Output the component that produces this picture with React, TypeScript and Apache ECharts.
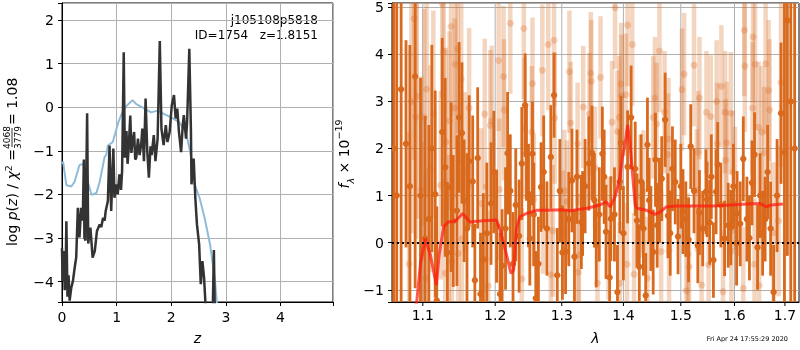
import React, { useEffect, useRef } from 'react';
import * as echarts from 'echarts';

// ---------- left panel: p(z) ----------
const zPrior = [0.0, 0.02, 0.08, 0.17, 0.23, 0.32, 0.38, 0.44, 0.54, 0.63, 0.69, 0.78, 0.81, 0.84, 0.93, 1.03, 1.09, 1.18, 1.29, 1.36, 1.48, 1.63, 1.75, 1.87, 1.99, 2.15, 2.27, 2.36, 2.42, 2.52, 2.61, 2.71, 2.8, 2.85, 2.9];
const pPrior = [-1.3, -1.25, -1.79, -1.82, -1.71, -1.33, -1.3, -1.57, -2.01, -1.97, -1.71, -1.14, -1.1, -0.88, -0.8, -0.35, -0.16, 0.03, 0.16, 0.07, -0.01, -0.12, -0.08, -0.16, -0.23, -0.35, -0.58, -1.11, -1.75, -2.09, -2.54, -3.15, -3.98, -4.7, -5.2];

const zFit = [0.0, 0.01, 0.03, 0.05, 0.07, 0.08, 0.1, 0.12, 0.14, 0.17, 0.2, 0.23, 0.26, 0.29, 0.32, 0.35, 0.38, 0.4, 0.41, 0.43, 0.46, 0.48, 0.5, 0.52, 0.56, 0.6, 0.64, 0.69, 0.72, 0.75, 0.78, 0.8, 0.84, 0.87, 0.9, 0.94, 0.96, 0.99, 1.02, 1.05, 1.08, 1.1, 1.13, 1.15, 1.18, 1.2, 1.22, 1.25, 1.27, 1.29, 1.32, 1.34, 1.36, 1.39, 1.42, 1.45, 1.47, 1.5, 1.53, 1.56, 1.59, 1.62, 1.64, 1.68, 1.71, 1.75, 1.79, 1.82, 1.86, 1.9, 1.93, 1.97, 2.01, 2.05, 2.08, 2.11, 2.14, 2.18, 2.21, 2.23, 2.27, 2.29, 2.33, 2.36, 2.37, 2.41, 2.44, 2.47, 2.51, 2.54, 2.57, 2.6, 2.63, 2.7, 2.76, 2.78, 2.8];
const pFit = [-3.23, -3.99, -3.3, -4.2, -3.5, -2.62, -4.35, -3.86, -4.44, -4.14, -3.99, -3.7, -3.45, -2.31, -2.99, -2.31, -2.6, -1.2, -2.99, -3.06, -0.14, -3.13, -2.9, -2.76, -3.45, -3.3, -2.84, -2.69, -2.75, -2.54, -2.6, -2.38, -2.15, -0.88, -2.38, -0.95, -2.08, -1.77, -2.0, -1.54, -1.9, -1.46, 1.26, -1.16, -0.55, -1.3, -0.95, -0.19, -1.05, -0.8, -0.57, -1.2, -1.16, -0.72, -1.1, -0.85, -0.49, -1.24, 0.2, -1.0, -1.62, -0.9, -1.1, -0.64, -1.24, -0.72, 1.52, -0.49, -0.87, -0.41, -0.8, -0.57, 0.05, 0.28, -0.26, -0.03, -0.56, -1.03, -0.41, -0.18, -0.72, -0.33, 1.34, -0.56, -1.77, -1.18, -2.08, -2.69, -3.15, -4.06, -3.53, -3.91, -4.6, -5.0, -4.6, -3.28, -5.0];

// ---------- right panel: spectrum ----------
const darkWave = [1.062, 1.066, 1.0717, 1.078, 1.083, 1.0899, 1.097, 1.103, 1.108, 1.112, 1.1165, 1.1186, 1.126, 1.13, 1.133, 1.138, 1.141, 1.146, 1.149, 1.153, 1.156, 1.16, 1.163, 1.168, 1.171, 1.175, 1.179, 1.183, 1.188, 1.194, 1.198, 1.202, 1.207, 1.21, 1.215, 1.218, 1.222, 1.226, 1.23, 1.235, 1.239, 1.244, 1.246, 1.249, 1.251, 1.255, 1.257, 1.26, 1.264, 1.268, 1.272, 1.277, 1.283, 1.288, 1.293, 1.297, 1.301, 1.306, 1.311, 1.316, 1.32, 1.324, 1.331, 1.333, 1.337, 1.343, 1.348, 1.352, 1.355, 1.36, 1.365, 1.368, 1.371, 1.377, 1.379, 1.385, 1.39, 1.394, 1.396, 1.4, 1.407, 1.413, 1.42, 1.423, 1.427, 1.43, 1.434, 1.438, 1.441, 1.444, 1.447, 1.451, 1.455, 1.458, 1.462, 1.466, 1.472, 1.477, 1.481, 1.485, 1.49, 1.495, 1.5, 1.504, 1.509, 1.514, 1.518, 1.524, 1.531, 1.534, 1.54, 1.546, 1.548, 1.553, 1.556, 1.56, 1.565, 1.568, 1.574, 1.581, 1.588, 1.593, 1.598, 1.604, 1.605, 1.611, 1.617, 1.624, 1.629, 1.634, 1.639, 1.645, 1.65, 1.655, 1.66, 1.665, 1.671, 1.677, 1.684, 1.692, 1.699, 1.705, 1.712, 1.72];
const darkFlux = [2.0, 1.0, 3.26, 2.1, 1.2, 3.53, 1.0, 0.09, 0.5, 2.0, 1.03, -1.23, 2.35, 1.6, -0.21, 1.18, 0.46, 0.68, 2.66, 2.33, 0.89, 0.3, 1.73, 1.3, -0.8, 1.8, -1.09, -0.35, 0.2, 0.83, 1.5, 0.35, -1.09, -0.49, 0.3, 1.9, 1.1, -0.45, 0.8, 0.14, 1.68, 2.92, 1.89, 1.0, 0.09, 1.89, 0.6, -1.18, -0.45, 1.18, 1.5, 0.3, 1.82, 3.13, -0.69, 1.1, -0.21, -0.19, 0.5, 1.32, -0.3, 1.4, 0.44, 0.62, 1.2, 1.68, 1.91, 0.9, -0.05, 0.6, 1.89, 1.4, 0.23, -0.74, 0.51, 0.6, -1.05, 1.3, 2.12, 0.2, 1.61, 2.66, 1.57, 0.47, -0.51, 1.3, 0.3, -1.12, 2.08, 0.9, 0.3, -0.2, 1.76, 0.37, 0.9, 1.36, 2.61, 0.57, 0.2, 1.57, 1.29, 0.13, 1.2, 0.66, 0.5, 0.06, 2.04, 1.1, -0.06, 0.64, 0.3, 1.08, 0.92, 0.43, 1.4, -0.37, 1.08, 1.66, 0.8, 0.09, 0.37, 0.32, 1.2, -0.01, 0.62, 0.4, 1.78, 0.5, 0.1, 1.27, 1.87, -0.1, 1.0, 0.2, 0.5, 1.5, 0.3, -1.05, 1.0, 2.75, 1.92, 4.72, 3.0, 2.0];
const darkErr = [6.0, 6.0, 5.0, 2.2, 3.0, 4.5, 2.5, 2.6, 2.0, 2.2, 2.2, 2.0, 2.0, 1.9, 1.5, 1.8, 1.4, 1.6, 1.6, 1.5, 1.3, 1.6, 1.4, 1.4, 1.2, 1.5, 1.3, 1.4, 1.5, 1.3, 1.3, 1.2, 1.3, 1.2, 1.3, 1.3, 1.2, 1.1, 1.2, 1.2, 1.2, 1.1, 1.0, 1.1, 1.0, 1.1, 1.1, 1.0, 1.0, 0.95, 1.2, 1.0, 1.1, 0.9, 1.0, 1.1, 1.0, 0.9, 1.0, 1.1, 1.0, 1.0, 1.0, 0.9, 1.0, 1.0, 1.0, 1.0, 0.9, 1.0, 1.0, 1.0, 1.0, 1.0, 0.9, 1.0, 1.0, 1.1, 1.0, 1.0, 1.2, 1.1, 1.0, 1.0, 0.9, 1.0, 1.0, 0.9, 1.0, 0.9, 0.9, 0.9, 1.0, 0.9, 0.9, 0.9, 1.0, 0.9, 0.9, 0.9, 0.9, 0.8, 0.9, 0.9, 0.8, 0.9, 0.9, 0.9, 0.8, 0.9, 0.8, 0.9, 0.8, 0.9, 0.9, 0.8, 0.9, 0.9, 0.9, 0.8, 0.9, 0.8, 0.9, 0.9, 0.9, 0.9, 0.9, 0.9, 0.9, 0.9, 0.9, 0.9, 0.9, 0.9, 0.9, 1.0, 1.0, 1.0, 1.2, 1.5, 3.5, 5.0, 6.0, 6.0];

const lightWave = [1.082, 1.085, 1.0885, 1.091, 1.092, 1.098, 1.099, 1.102, 1.104, 1.105, 1.11, 1.114, 1.124, 1.126, 1.128, 1.13, 1.131, 1.135, 1.136, 1.138, 1.139, 1.143, 1.144, 1.147, 1.148, 1.152, 1.153, 1.157, 1.163, 1.18, 1.185, 1.186, 1.19, 1.193, 1.195, 1.205, 1.206, 1.212, 1.213, 1.222, 1.239, 1.242, 1.243, 1.254, 1.255, 1.257, 1.27, 1.271, 1.279, 1.283, 1.286, 1.288, 1.289, 1.302, 1.304, 1.308, 1.312, 1.314, 1.325, 1.326, 1.327, 1.334, 1.344, 1.346, 1.347, 1.353, 1.357, 1.362, 1.375, 1.381, 1.386, 1.39, 1.393, 1.394, 1.396, 1.397, 1.404, 1.406, 1.407, 1.415, 1.418, 1.429, 1.434, 1.441, 1.451, 1.454, 1.457, 1.462, 1.465, 1.471, 1.477, 1.478, 1.479, 1.502, 1.506, 1.51, 1.513, 1.515, 1.524, 1.529, 1.532, 1.534, 1.538, 1.547, 1.551, 1.555, 1.566, 1.567, 1.575, 1.578, 1.582, 1.583, 1.585, 1.593, 1.594, 1.597, 1.601, 1.617, 1.619, 1.62, 1.635, 1.636, 1.639, 1.64, 1.647, 1.648, 1.653, 1.658, 1.661, 1.667, 1.669, 1.677, 1.687, 1.692];
const lightFlux = [-0.45, 3.0, 4.76, 2.67, 3.11, 1.13, -0.26, 2.66, -0.75, 3.26, 1.57, 2.73, 1.22, 5.08, 4.06, -0.65, 2.14, -0.04, 2.59, 4.59, -0.4, 2.86, 3.79, 4.12, -0.23, 3.47, 0.08, 1.5, 2.86, 0.83, 2.73, -0.35, -0.92, 2.49, 2.59, 3.87, 1.13, 3.53, 2.82, 4.66, -0.77, 4.55, 2.43, 2.35, 3.38, 0.92, 3.66, 0.74, 4.21, -0.68, 0.25, 4.3, 2.65, 0.23, 1.1, 0.87, 3.63, 2.54, 2.1, -0.63, -0.26, 2.88, 2.73, 3.6, 3.43, 1.59, -0.86, 3.51, 0.09, 2.56, 4.99, 2.36, 2.66, -0.86, 3.37, 3.12, 3.14, -0.46, 4.62, 4.21, -0.67, 0.99, 1.09, -0.75, 2.66, 3.07, 2.52, 4.07, -0.19, 2.77, 1.87, 2.2, -0.17, 3.25, 3.58, -1.02, -0.25, -0.51, 3.77, 1.11, 1.92, 3.07, -0.9, 2.77, -0.47, 2.68, 3.0, 2.1, 3.32, -1.04, 2.77, 1.75, 2.12, 2.75, -0.18, 1.5, 1.16, -0.97, 4.51, 3.75, 2.86, 4.37, -0.46, 3.79, 2.45, -0.91, 2.35, 1.91, 3.8, 3.23, 2.82, 0.21, 0.46, 3.4];
const lightErr = [2.8, 2.8, 3.0, 2.6, 2.6, 2.4, 2.4, 2.3, 2.3, 2.3, 2.2, 2.2, 2.0, 2.0, 2.0, 2.0, 2.0, 1.9, 1.9, 1.9, 1.9, 1.9, 1.8, 1.8, 1.8, 1.8, 1.8, 1.7, 1.7, 1.6, 1.6, 1.6, 1.6, 1.6, 1.6, 1.5, 1.5, 1.5, 1.5, 1.5, 1.5, 1.5, 1.5, 1.4, 1.4, 1.4, 1.4, 1.4, 1.4, 1.4, 1.4, 1.4, 1.4, 1.3, 1.3, 1.3, 1.3, 1.3, 1.3, 1.3, 1.3, 1.3, 1.3, 1.3, 1.3, 1.3, 1.3, 1.3, 1.3, 1.3, 1.3, 1.3, 1.3, 1.3, 1.3, 1.3, 1.3, 1.3, 1.3, 1.3, 1.3, 1.3, 1.3, 1.3, 1.3, 1.3, 1.3, 1.3, 1.3, 1.3, 1.3, 1.3, 1.3, 1.3, 1.3, 1.3, 1.3, 1.3, 1.3, 1.3, 1.3, 1.3, 1.3, 1.3, 1.3, 1.3, 1.3, 1.3, 1.3, 1.3, 1.3, 1.3, 1.3, 1.3, 1.3, 1.3, 1.3, 1.3, 1.4, 1.4, 1.4, 1.4, 1.4, 1.4, 1.4, 1.4, 1.4, 1.4, 1.5, 1.5, 1.5, 1.5, 1.6, 1.8];

const modelWave = [1.086, 1.092, 1.097, 1.103, 1.11, 1.118, 1.122, 1.128, 1.134, 1.144, 1.154, 1.164, 1.178, 1.202, 1.208, 1.216, 1.223, 1.227, 1.231, 1.236, 1.246, 1.262, 1.277, 1.3, 1.313, 1.34, 1.361, 1.371, 1.378, 1.386, 1.393, 1.399, 1.404, 1.407, 1.411, 1.417, 1.42, 1.423, 1.439, 1.454, 1.463, 1.474, 1.492, 1.529, 1.56, 1.592, 1.624, 1.65, 1.663, 1.672, 1.696];
const modelFlux = [-1.9, -1.25, -0.44, 0.09, -0.26, -0.9, -0.23, 0.34, 0.44, 0.46, 0.62, 0.44, 0.46, 0.48, 0.23, -0.23, -0.65, -0.58, 0.3, 0.55, 0.62, 0.69, 0.69, 0.7, 0.68, 0.73, 0.8, 0.87, 0.76, 0.97, 1.32, 1.85, 2.2, 2.5, 2.14, 1.22, 0.8, 0.73, 0.69, 0.6, 0.65, 0.76, 0.78, 0.78, 0.78, 0.8, 0.82, 0.83, 0.76, 0.8, 0.82];

const waveTickLabels = [1.1, 1.2, 1.3, 1.4, 1.5, 1.6, 1.7];

const X1MIN = 0, X1MAX = 4.96, Y1MIN = -4.47, Y1MAX = 2.39;
const WMIN = 1.06, WMAX = 1.729, Y2MIN = -1.26, Y2MAX = 5.09;

const FONT = 'DejaVu Sans';
const DARK = '#d9691c';
const LIGHT = 'rgba(217,105,28,0.28)';

function fmtInt(v: number) {
  if (Math.abs(v - Math.round(v)) > 1e-6) return '';
  const r = Math.round(v);
  return r < 0 ? '\u2212' + Math.abs(r) : String(r);
}

function axisBase(extra: any) {
  return {
    axisLine: { show: true, onZero: false, lineStyle: { color: '#000', width: 1 } },
    axisTick: { show: true, inside: false, length: 4, lineStyle: { color: '#000', width: 1 } },
    axisLabel: { color: '#000', fontSize: 14, fontFamily: FONT, formatter: fmtInt },
    splitLine: { show: true, lineStyle: { color: '#b0b0b0', width: 1 } },
    ...extra,
  };
}

function errRender(color: string, lw: number, r: number) {
  return (params: any, api: any) => {
    const x = api.value(0);
    const f = api.value(1);
    const e = api.value(2);
    const lo = Math.max(f - e, Y2MIN);
    const hi = Math.min(f + e, Y2MAX);
    const children: any[] = [];
    if (hi > lo) {
      const a = api.coord([x, lo]);
      const b = api.coord([x, hi]);
      children.push({ type: 'line', shape: { x1: a[0], y1: a[1], x2: b[0], y2: b[1] }, style: { stroke: color, lineWidth: lw } });
    }
    if (f >= Y2MIN && f <= Y2MAX) {
      const c = api.coord([x, f]);
      children.push({ type: 'circle', shape: { cx: c[0], cy: c[1], r }, style: { fill: color } });
    }
    return { type: 'group', children };
  };
}

export default function App() {
  const ref = useRef<HTMLDivElement>(null);
  useEffect(() => {
    const chart = echarts.init(ref.current!, null, { renderer: 'svg' });
    const priorData = zPrior.map((z, i) => [z, pPrior[i]]);
    const fitData = zFit.map((z, i) => [z, pFit[i]]);
    const darkData = darkWave.map((w, i) => [Math.log(w), darkFlux[i], darkErr[i]]);
    const lightData = lightWave.map((w, i) => [Math.log(w), lightFlux[i], lightErr[i]]);
    const modelData = modelWave.map((w, i) => [Math.log(w), modelFlux[i]]);

    const option: any = {
      animation: false,
      grid: [
        { left: 62, top: 3, width: 271, height: 301, show: true, borderColor: '#000', borderWidth: 1, backgroundColor: 'transparent' },
        { left: 392, top: 3, width: 407, height: 301, show: true, borderColor: '#000', borderWidth: 1, backgroundColor: 'transparent' },
      ],
      xAxis: [
        axisBase({
          type: 'value', gridIndex: 0, min: X1MIN, max: X1MAX, splitNumber: 5,
          name: 'z', nameLocation: 'middle', nameGap: 29,
          nameTextStyle: { fontSize: 14, fontFamily: FONT, fontStyle: 'italic', color: '#000' },
        }),
        {
          type: 'value', gridIndex: 1, min: Math.log(WMIN), max: Math.log(WMAX),
          axisLine: { show: true, onZero: false, lineStyle: { color: '#000' } },
          axisTick: { show: false }, axisLabel: { show: false }, splitLine: { show: false },
          name: '\u03bb', nameLocation: 'middle', nameGap: 29,
          nameTextStyle: { fontSize: 14, fontFamily: FONT, fontStyle: 'italic', color: '#000' },
        },
      ],
      yAxis: [
        axisBase({ type: 'value', gridIndex: 0, min: Y1MIN, max: Y1MAX, splitNumber: 5 }),
        axisBase({ type: 'value', gridIndex: 1, min: Y2MIN, max: Y2MAX, splitNumber: 5 }),
      ],
      series: [
        {
          type: 'line', xAxisIndex: 0, yAxisIndex: 0, data: priorData, showSymbol: false, z: 3,
          lineStyle: { color: '#8fbbd9', width: 2 }, silent: true,
        },
        {
          type: 'line', xAxisIndex: 0, yAxisIndex: 0, data: fitData, showSymbol: false, z: 4,
          lineStyle: { color: '#333333', width: 2.5 }, silent: true,
        },
        {
          type: 'custom', xAxisIndex: 1, yAxisIndex: 1, clip: false, z: 1, silent: true,
          data: waveTickLabels.map((w) => [Math.log(w), 0]),
          encode: { x: 0, y: 1 },
          renderItem: (params: any, api: any) => {
            const p = api.coord([api.value(0), 0]);
            const cs = params.coordSys;
            const x = p[0];
            const bottom = cs.y + cs.height;
            return {
              type: 'group',
              children: [
                { type: 'line', shape: { x1: x, y1: cs.y, x2: x, y2: bottom }, style: { stroke: '#b0b0b0', lineWidth: 1 } },
                { type: 'line', shape: { x1: x, y1: bottom, x2: x, y2: bottom + 4 }, style: { stroke: '#000', lineWidth: 1 } },
                {
                  type: 'text', x, y: bottom + 13,
                  style: { text: waveTickLabels[params.dataIndex].toFixed(1), align: 'center', verticalAlign: 'middle', textAlign: 'center', textVerticalAlign: 'middle', fontSize: 14, fontFamily: FONT, fill: '#000' },
                },
              ],
            };
          },
        },
        {
          type: 'custom', xAxisIndex: 1, yAxisIndex: 1, clip: true, z: 2, silent: true,
          data: lightData, encode: { x: 0, y: 1 },
          renderItem: errRender(LIGHT, 4.5, 3.5),
        },
        {
          type: 'custom', xAxisIndex: 1, yAxisIndex: 1, clip: true, z: 3, silent: true,
          data: darkData, encode: { x: 0, y: 1 },
          renderItem: errRender(DARK, 2.8, 3.2),
        },
        {
          type: 'line', xAxisIndex: 1, yAxisIndex: 1, data: modelData, showSymbol: false, z: 4, silent: true,
          lineStyle: { color: 'rgba(255,25,15,0.72)', width: 3 },
          markLine: {
            silent: true, symbol: ['none', 'none'], label: { show: false },
            lineStyle: { color: '#000', type: [2, 3], width: 2 },
            data: [{ yAxis: 0 }],
          },
        },
      ],
      graphic: [
        {
          type: 'text', x: 318, y: 20, silent: true,
          style: { text: 'j105108p5818', align: 'right', verticalAlign: 'middle', textAlign: 'right', textVerticalAlign: 'middle', fontSize: 12, fontFamily: FONT, fill: '#000' },
        },
        {
          type: 'text', x: 318, y: 35, silent: true,
          style: { text: 'ID=1754   z=1.8151', align: 'right', verticalAlign: 'middle', textAlign: 'right', textVerticalAlign: 'middle', fontSize: 12, fontFamily: FONT, fill: '#000' },
        },
        {
          type: 'text', x: 788, y: 339, silent: true,
          style: { text: 'Fri Apr 24 17:55:29 2020', align: 'right', verticalAlign: 'middle', textAlign: 'right', textVerticalAlign: 'middle', fontSize: 6.5, fontFamily: FONT, fill: '#000' },
        },
        {
          type: 'group', x: 12, y: 153, rotation: Math.PI / 2, silent: true,
          children: [
            {
              type: 'text', x: 4, y: 0,
              style: {
                text: '{r|log }{i|p}{r|(}{i|z}{r|) / }{i|\u03c7}{s|2}{r| =}',
                align: 'right', verticalAlign: 'middle', textAlign: 'right', textVerticalAlign: 'middle',
                fill: '#000',
                rich: {
                  r: { fontSize: 14, fontFamily: FONT, lineHeight: 18 },
                  i: { fontSize: 14, fontFamily: FONT, fontStyle: 'italic', lineHeight: 18 },
                  s: { fontSize: 9.5, fontFamily: FONT, verticalAlign: 'top', lineHeight: 12 },
                },
              },
            },
            {
              type: 'text', x: 15.5, y: -5.5,
              style: { text: '4068', align: 'center', verticalAlign: 'middle', textAlign: 'center', textVerticalAlign: 'middle', fontSize: 9, fontFamily: FONT, fill: '#000' },
            },
            { type: 'line', shape: { x1: 6, y1: 0, x2: 25, y2: 0 }, style: { stroke: '#000', lineWidth: 0.8 } },
            {
              type: 'text', x: 15.5, y: 6,
              style: { text: '3779', align: 'center', verticalAlign: 'middle', textAlign: 'center', textVerticalAlign: 'middle', fontSize: 9, fontFamily: FONT, fill: '#000' },
            },
            {
              type: 'text', x: 28, y: 0,
              style: { text: '= 1.08', align: 'left', verticalAlign: 'middle', textAlign: 'left', textVerticalAlign: 'middle', fontSize: 14, fontFamily: FONT, fill: '#000' },
            },
          ],
        },
        {
          type: 'group', x: 344, y: 154, rotation: Math.PI / 2, silent: true,
          children: [
            {
              type: 'text', x: 0, y: 0,
              style: {
                text: '{i|f}{sub|\u03bb}{r| \u00d7 10}{sup|\u221219}',
                align: 'center', verticalAlign: 'middle', textAlign: 'center', textVerticalAlign: 'middle',
                fill: '#000',
                rich: {
                  i: { fontSize: 14, fontFamily: FONT, fontStyle: 'italic', lineHeight: 22 },
                  r: { fontSize: 14, fontFamily: FONT, lineHeight: 22 },
                  sub: { fontSize: 9.5, fontFamily: FONT, fontStyle: 'italic', verticalAlign: 'bottom', lineHeight: 12 },
                  sup: { fontSize: 9.5, fontFamily: FONT, verticalAlign: 'top', lineHeight: 12 },
                },
              },
            },
          ],
        },
      ],
    };
    chart.setOption(option);
    return () => chart.dispose();
  }, []);
  return <div ref={ref} style={{ position: 'fixed', left: 0, top: 0, width: 800, height: 350 }} />;
}
